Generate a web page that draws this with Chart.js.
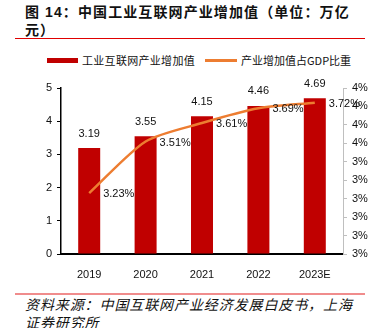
<!DOCTYPE html>
<html>
<head>
<meta charset="utf-8">
<script src="https://cdn.jsdelivr.net/npm/chart.js@4"></script>
<style>
  body { margin: 0; width: 375px; height: 328px; background: #fff; position: relative; overflow: hidden;
         font-family: "Liberation Sans", "Noto Sans CJK SC", sans-serif; }
  .title { position: absolute; left: 25px; top: 3px; width: 340px; font-size: 14px; font-weight: bold;
           letter-spacing: 1.1px; line-height: 18px; color: #111;
           font-family: "Liberation Sans", "Noto Sans CJK SC", sans-serif; }
  .rule { position: absolute; left: 15px; width: 350px; }
  .legend { position: absolute; top: 53px; left: 0; width: 375px; height: 14px; font-size: 11px;
            font-family: "Noto Sans CJK SC", sans-serif; color: #111; }
  .legend span { position: absolute; top: 0; line-height: 14px; white-space: nowrap; }
  .sw { position: absolute; }
  .foot { position: absolute; left: 25px; top: 295px; width: 345px; font-size: 14px; font-style: italic;
          letter-spacing: 0.9px; line-height: 18px; color: #111;
          font-family: "Noto Sans CJK SC", sans-serif; }
  .wrap { position: absolute; left: 0; top: 75px; width: 375px; height: 205px; }
</style>
</head>
<body>
<div class="title">图 14：中国工业互联网产业增加值（单位：万亿<br>元）</div>
<div class="rule" style="top:38px;height:1px;background:#e00000;"></div>

<div class="legend">
  <div class="sw" style="left:47px;top:5px;width:31px;height:5px;background:#c00000;"></div>
  <span style="left:82px;letter-spacing:0.3px;">工业互联网产业增加值</span>
  <div class="sw" style="left:205px;top:6px;width:32px;height:2.5px;background:#ed7d31;"></div>
  <span style="left:241px;">产业增加值占GDP比重</span>
</div>

<div class="wrap"><canvas id="myChart"></canvas></div>

<div class="rule" style="top:293px;height:1.5px;background:#f08c8c;"></div>
<div class="foot">资料来源：中国互联网产业经济发展白皮书，上海<br>证券研究所</div>

<script>
const ctx = document.getElementById("myChart");

const years = ["2019", "2020", "2021", "2022", "2023E"];
const addedValue = [3.19, 3.55, 4.15, 4.46, 4.69];
const gdpShare = [3.23, 3.51, 3.61, 3.69, 3.72];

const font = "Liberation Sans";

// labels above bars and to the right of line points
const valueLabels = {
  id: "valueLabels",
  afterDatasetsDraw(chart) {
    const c = chart.ctx;
    c.save();
    c.font = "11px " + font;
    c.fillStyle = "#111";
    const bars = chart.getDatasetMeta(0).data;
    c.textAlign = "center";
    c.textBaseline = "bottom";
    bars.forEach((b, i) => {
      c.fillText(addedValue[i].toFixed(2), b.x, b.y - 9);
    });
    const pts = chart.getDatasetMeta(1).data;
    c.textAlign = "left";
    c.textBaseline = "middle";
    pts.forEach((p, i) => {
      c.fillText(gdpShare[i].toFixed(2) + "%", p.x + 14, p.y + 1);
    });
    c.restore();
  },
};

const data = {
  labels: years,
  datasets: [
    {
      type: "bar",
      label: "工业互联网产业增加值",
      data: addedValue,
      backgroundColor: "#c00000",
      yAxisID: "y",
      barPercentage: 0.39,
      categoryPercentage: 1,
      order: 2,
    },
    {
      type: "line",
      label: "产业增加值占GDP比重",
      data: gdpShare,
      borderColor: "#ed7d31",
      borderWidth: 2.5,
      pointRadius: 0,
      tension: 0.25,
      yAxisID: "y1",
      order: 1,
    },
  ],
};

const config = {
  data: data,
  options: {
    responsive: true,
    maintainAspectRatio: false,
    animation: false,
    layout: { padding: { top: 13, left: 0, right: 0, bottom: 0 } },
    plugins: { legend: { display: false }, tooltip: { enabled: false } },
    scales: {
      x: {
        grid: { display: false },
        border: { display: true, color: "#000", width: 2 },
        ticks: { color: "#111", font: { family: font, size: 11 }, padding: 6 },
        afterFit(scale) { scale.height = 26; },
      },
      y: {
        position: "left",
        min: 0,
        max: 5,
        ticks: { stepSize: 1, color: "#111", font: { family: font, size: 11 }, padding: 5 },
        grid: { drawOnChartArea: false, drawTicks: true, tickLength: 4, color: "#000" },
        border: { display: true, color: "#000", width: 1.5 },
        afterFit(scale) { scale.width = 61; },
      },
      y1: {
        position: "right",
        min: 2.9,
        max: 3.8,
        ticks: {
          stepSize: 0.1,
          color: "#111",
          font: { family: font, size: 11 },
          padding: 5,
          callback: (v) => Math.round(v) + "%",
        },
        grid: { drawOnChartArea: false, drawTicks: true, tickLength: 4, color: "#bfbfbf" },
        border: { display: true, color: "#bfbfbf", width: 1 },
        afterFit(scale) { scale.width = 32; },
      },
    },
  },
  plugins: [valueLabels],
};

const myChart = new Chart(ctx, config);
</script>
</body>
</html>
